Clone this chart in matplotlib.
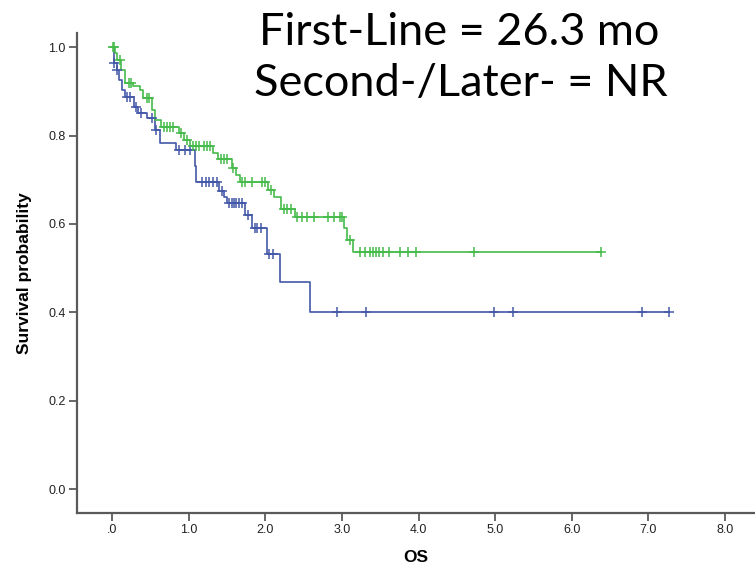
import numpy as np
import matplotlib
matplotlib.use("Agg")
import matplotlib.pyplot as plt

# Kaplan-Meier step points (time in years, survival after the step)
first_times = [0.02, 0.06, 0.09, 0.13, 0.17, 0.29, 0.34, 0.45, 0.56, 0.63, 0.83,
               1.08, 1.10, 1.40, 1.46, 1.50, 1.74, 1.82, 2.02, 2.19, 2.585]
first_surv = [0.965, 0.948, 0.925, 0.903, 0.888, 0.865, 0.850, 0.839, 0.812, 0.782, 0.767,
              0.730, 0.695, 0.675, 0.660, 0.647, 0.620, 0.590, 0.533, 0.468, 0.401]
first_censor = [0.03, 0.07, 0.20, 0.24, 0.31, 0.38, 0.52, 0.58, 0.88, 0.95, 1.02,
                1.17, 1.22, 1.27, 1.32, 1.37, 1.43, 1.53, 1.56, 1.59, 1.62, 1.66, 1.70,
                1.77, 1.86, 1.89, 1.94, 2.05, 2.10, 2.93, 3.31, 4.98, 5.23, 6.92, 7.27]

later_times = [0.04, 0.07, 0.12, 0.17, 0.28, 0.36, 0.40, 0.52, 0.56, 0.64, 0.87,
               0.94, 1.02, 1.32, 1.38, 1.56, 1.62, 1.67, 2.03, 2.12, 2.20, 2.39,
               3.03, 3.07, 3.14]
later_surv = [0.986, 0.970, 0.948, 0.920, 0.913, 0.903, 0.885, 0.857, 0.835, 0.820, 0.805,
              0.790, 0.776, 0.760, 0.747, 0.726, 0.710, 0.695, 0.676, 0.661, 0.633, 0.616,
              0.590, 0.563, 0.5355]
later_censor = [0.01, 0.03, 0.10, 0.22, 0.25, 0.45, 0.48, 0.68, 0.72, 0.76, 0.80, 0.90,
                0.98, 1.06, 1.10, 1.14, 1.20, 1.24, 1.28, 1.42, 1.46, 1.50, 1.58, 1.70,
                1.74, 1.82, 1.96, 2.00, 2.08, 2.24, 2.28, 2.33, 2.42, 2.48, 2.55, 2.63,
                2.82, 2.90, 2.97, 3.00, 3.10, 3.24, 3.30, 3.36, 3.40, 3.45, 3.49, 3.54,
                3.61, 3.76, 3.86, 3.97, 4.72, 6.38]

x_ticks = [0, 1, 2, 3, 4, 5, 6, 7, 8]
x_labels = [".0", "1.0", "2.0", "3.0", "4.0", "5.0", "6.0", "7.0", "8.0"]
y_ticks = [0.0, 0.2, 0.4, 0.6, 0.8, 1.0]
y_labels = ["0.0", "0.2", "0.4", "0.6", "0.8", "1.0"]

BLUE = "#4358a8"
GREEN = "#45bb4a"
AXIS = "#5a5a5a"
sans = ["Liberation Sans", "DejaVu Sans"]


def km_curve(ax, times, surv, censor, color):
    t_end = max(censor[-1], times[-1])
    xs = [0.0] + list(times) + [t_end]
    ys = [1.0] + list(surv) + [surv[-1]]
    ax.step(xs, ys, where="post", color=color, lw=1.2, zorder=3)
    # survival level at each censored time
    idx = np.searchsorted(times, censor, side="right")
    levels = np.concatenate([[1.0], surv])[idx]
    ax.plot(censor, levels, ls="none", marker="+", ms=7, mew=1.1, color=color, zorder=4)


fig = plt.figure(figsize=(7.55, 5.68), dpi=100)
ax = fig.add_axes([77 / 755, 55 / 568, 678 / 755, 480 / 568])

km_curve(ax, first_times, first_surv, first_censor, BLUE)
km_curve(ax, later_times, later_surv, later_censor, GREEN)

ax.set_xlim(-0.457, 8.39)
ax.set_ylim(-0.054, 1.032)
ax.set_xticks(x_ticks)
ax.set_xticklabels(x_labels, family=sans, fontsize=9, color="#222222")
ax.set_yticks(y_ticks)
ax.set_yticklabels(y_labels, family=sans, fontsize=9, color="#222222")
ax.tick_params(axis="both", direction="out", length=6, width=1.3, color=AXIS, pad=2)

for side in ("top", "right"):
    ax.spines[side].set_visible(False)
for side in ("left", "bottom"):
    ax.spines[side].set_color(AXIS)
    ax.spines[side].set_linewidth(1.6)

ax.set_xlabel("OS", family=sans, fontsize=12.5, fontweight="bold", labelpad=10)
ax.set_ylabel("Survival probability", family=sans, fontsize=12.5,
              fontweight="bold", labelpad=12)

title_font = ["Lato", "Open Sans", "DejaVu Sans"]
fig.text(259 / 755, 1 - 45 / 568, "First-Line = 26.3 mo", family=title_font,
         fontsize=32.5, va="baseline", ha="left")
fig.text(254 / 755, 1 - 96 / 568, "Second-/Later- = NR", family=title_font,
         fontsize=32.5, va="baseline", ha="left")

fig.savefig("out.png", dpi=100)
